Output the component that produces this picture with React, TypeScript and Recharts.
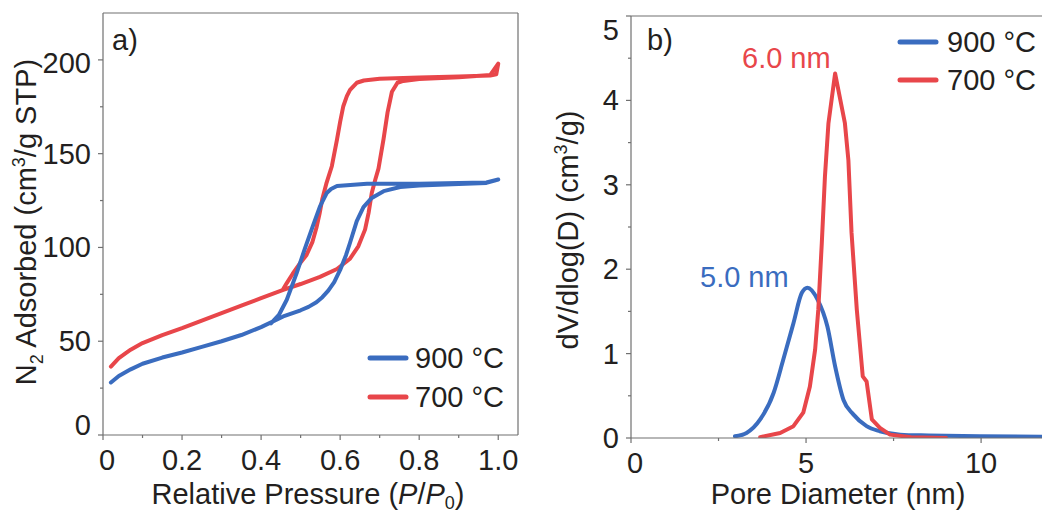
import React from 'react';
import { LineChart, Line, XAxis, YAxis, ReferenceLine, Customized, Legend } from 'recharts';

const FONT = '"Liberation Sans", Arial, Helvetica, sans-serif';
const BLUE = '#3a6cbf';
const RED = '#e8464a';
const AXIS = '#707070';
const TEXT = '#231f20';

// ---- Panel a) N2 isotherms (loop: adsorption then desorption) ----
const iso900P = [0.02, 0.04, 0.07, 0.1, 0.15, 0.2, 0.25, 0.3, 0.35, 0.4, 0.456, 0.5, 0.52, 0.54, 0.555, 0.57, 0.585, 0.6, 0.615, 0.625, 0.642, 0.659, 0.68, 0.71, 0.752, 0.8, 0.9, 0.97, 1.0,
  0.97, 0.9, 0.8, 0.668, 0.592, 0.577, 0.566, 0.549, 0.532, 0.511, 0.49, 0.465, 0.445, 0.425];
const iso900V = [28, 31.5, 35, 38, 41.3, 44, 47, 50, 53.3, 57.5, 63.2, 66.5, 68.3, 70.8, 73.5, 77, 81.5, 88, 96, 102.5, 114, 121.5, 126.4, 130, 132.2, 133, 133.8, 134.4, 136.2,
  134.6, 134.3, 134, 134, 132.8, 131.2, 129, 121.9, 112, 99.5, 86.3, 72.1, 64, 59.5];

const iso700P = [0.02, 0.04, 0.07, 0.1, 0.15, 0.2, 0.25, 0.3, 0.35, 0.4, 0.456, 0.5, 0.549, 0.592, 0.625, 0.646, 0.663, 0.672, 0.68, 0.689, 0.697, 0.71, 0.72, 0.731, 0.745, 0.76, 0.8, 0.9, 0.98, 1.0,
  0.995, 0.98, 0.9, 0.8, 0.7, 0.66, 0.642, 0.625, 0.617, 0.608, 0.6, 0.592, 0.579, 0.565, 0.555, 0.548, 0.54, 0.53, 0.515, 0.5, 0.48, 0.465, 0.456];
const iso700V = [36.5, 41, 45.5, 49, 53.3, 57, 61, 65, 69, 73, 77.4, 80.5, 84.3, 88.5, 94, 100.6, 109.5, 118.4, 129, 136.2, 142, 158, 172, 183, 187.8, 188.8, 189.8, 190.8, 192, 198,
  192.3, 191.7, 191.2, 190.6, 190, 189, 187.8, 184, 180.7, 175.3, 167, 157.5, 143.3, 134, 126, 118, 110.5, 103, 96, 92, 86, 81, 77.8];

const pressureTicks = [0, 0.1, 0.2, 0.3, 0.4, 0.5, 0.6, 0.7, 0.8, 0.9, 1.0];
const pressureLabels = ['0', '0.2', '0.4', '0.6', '0.8', '1.0'];
const volumeTicks = [0, 25, 50, 75, 100, 125, 150, 175, 200];
const volumeLabels = ['0', '50', '100', '150', '200'];

// ---- Panel b) pore size distributions ----
const pore900D = [2.97, 3.3, 3.69, 4.07, 4.35, 4.64, 4.88, 5.04, 5.33, 5.61, 5.83, 6.07, 6.35, 6.73, 7.11, 7.69, 8.5, 10, 11.74];
const pore900V = [0.02, 0.06, 0.22, 0.53, 0.93, 1.36, 1.72, 1.78, 1.64, 1.32, 0.85, 0.45, 0.28, 0.14, 0.08, 0.04, 0.03, 0.02, 0.015];
const pore700D = [3.69, 4.26, 4.64, 4.92, 5.11, 5.26, 5.35, 5.45, 5.54, 5.64, 5.83, 6.11, 6.21, 6.3, 6.45, 6.62, 6.73, 6.88, 7.11, 7.4, 8, 9];
const pore700V = [0.01, 0.06, 0.14, 0.3, 0.61, 1.05, 1.52, 2.31, 3.1, 3.73, 4.32, 3.73, 3.29, 2.43, 1.52, 0.73, 0.67, 0.22, 0.12, 0.04, 0.01, 0];

const diameterTicks = [0, 2.5, 5, 7.5, 10];
const diameterLabels = ['0', '5', '10'];
const dvTicks = [0, 0.5, 1, 1.5, 2, 2.5, 3, 3.5, 4, 4.5, 5];
const dvLabels = ['0', '1', '2', '3', '4', '5'];

const seriesNames = ['900 °C', '700 °C'];
const seriesColors = [BLUE, RED];

const zip = (xs: number[], ys: number[]) => xs.map((x, i) => ({ x, y: ys[i] }));
const iso900 = zip(iso900P, iso900V);
const iso700 = zip(iso700P, iso700V);
const pore900 = zip(pore900D, pore900V);
const pore700 = zip(pore700D, pore700V);

const textStyle = { fontFamily: FONT, fontSize: 29, fill: TEXT };

const makeXTick = (labels: string[], firstDx: number) => (props: any) => {
  const { x, y, index } = props;
  const major = index % 2 === 0;
  return (
    <g>
      <line x1={x} x2={x} y1={y} y2={y + (major ? 5 : 3)} stroke={AXIS} strokeWidth={1.2} />
      {major && (
        <text x={x + (index === 0 ? firstDx : 0)} y={y + 35} textAnchor="middle" style={textStyle}>
          {labels[index / 2]}
        </text>
      )}
    </g>
  );
};

const makeYTick = (labels: string[], firstDy: number, lastDy: number) => (props: any) => {
  const { x, y, index } = props;
  const major = index % 2 === 0;
  const li = index / 2;
  let dy = 0;
  if (li === 0) dy = firstDy;
  if (li === labels.length - 1) dy = lastDy;
  return (
    <g>
      <line x1={x} x2={x - (major ? 5 : 3)} y1={y} y2={y} stroke={AXIS} strokeWidth={1.2} />
      {major && (
        <text x={x - 12} y={y + 10 + dy} textAnchor="end" style={textStyle}>
          {labels[li]}
        </text>
      )}
    </g>
  );
};

const makeLegend = (lineX: number, lineY: number[], textX: number, w: number) => () => (
  <svg width={w} height={90} style={{ overflow: 'visible' }}>
    {seriesNames.map((n, i) => (
      <g key={n}>
        <line x1={lineX} x2={lineX + 36} y1={lineY[i]} y2={lineY[i]} stroke={seriesColors[i]} strokeWidth={5} strokeLinecap="round" />
        <text x={textX} y={lineY[i] + 10} style={textStyle}>{n}</text>
      </g>
    ))}
  </svg>
);

const LeftTexts = () => (
  <g>
    <text x={112} y={50} style={textStyle}>a)</text>
    <text x={308} y={504} textAnchor="middle" style={textStyle}>
      Relative Pressure (<tspan fontStyle="italic">P</tspan>/<tspan fontStyle="italic">P</tspan>
      <tspan fontSize={18} dy={5}>0</tspan><tspan dy={-5}>)</tspan>
    </text>
    <text x={36} y={222} textAnchor="middle" transform="rotate(-90 36 222)" style={textStyle}>
      N<tspan fontSize={18} dy={7}>2</tspan><tspan dy={-7}> Adsorbed (cm</tspan>
      <tspan fontSize={18} dy={-11}>3</tspan><tspan dy={11}>/g STP)</tspan>
    </text>
  </g>
);

const RightTexts = () => (
  <g>
    <text x={122} y={50} style={textStyle}>b)</text>
    <text x={217} y={68} style={{ ...textStyle, fill: RED }}>6.0 nm</text>
    <text x={175} y={287} style={{ ...textStyle, fill: BLUE }}>5.0 nm</text>
    <text x={313} y={504} textAnchor="middle" style={textStyle}>Pore Diameter (nm)</text>
    <text x={53} y={230} textAnchor="middle" transform="rotate(-90 53 230)" style={textStyle}>
      dV/dlog(D) (cm<tspan fontSize={18} dy={-11}>3</tspan><tspan dy={11}>/g)</tspan>
    </text>
  </g>
);

export default function App() {
  return (
    <div style={{ position: 'absolute', left: 0, top: 0, width: 1042, height: 516, background: '#fff', overflow: 'hidden' }}>
      <div style={{ position: 'absolute', left: 0, top: 0 }}>
        <LineChart width={525} height={516} margin={{ top: 13, right: 7, bottom: 0, left: 0 }}>
          <XAxis type="number" dataKey="x" domain={[0, 1.05]} ticks={pressureTicks} interval={0}
            tickSize={0} tickMargin={0} height={81} allowDataOverflow
            axisLine={{ stroke: AXIS, strokeWidth: 1.2 }} tickLine={false}
            tick={makeXTick(pressureLabels, 4)} />
          <YAxis type="number" dataKey="y" domain={[0, 225]} ticks={volumeTicks} interval={0}
            tickSize={0} tickMargin={0} width={103} allowDataOverflow
            axisLine={{ stroke: AXIS, strokeWidth: 1.2 }} tickLine={false}
            tick={makeYTick(volumeLabels, -10, 3)} />
          <ReferenceLine y={225} stroke={AXIS} strokeWidth={1.2} />
          <ReferenceLine x={1.05} stroke={AXIS} strokeWidth={1.2} />
          <Line data={iso700} dataKey="y" name="700 °C" type="linear" stroke={RED} strokeWidth={4}
            dot={false} isAnimationActive={false} strokeLinejoin="round" strokeLinecap="round" />
          <Line data={iso900} dataKey="y" name="900 °C" type="linear" stroke={BLUE} strokeWidth={4}
            dot={false} isAnimationActive={false} strokeLinejoin="round" strokeLinecap="round" />
          <Legend layout="vertical" align="center" verticalAlign="middle"
            wrapperStyle={{ left: 360, top: 330, width: 160, height: 90 }}
            content={makeLegend(10, [28, 67], 55, 160)} />
          <Customized component={LeftTexts} />
        </LineChart>
      </div>
      <div style={{ position: 'absolute', left: 525, top: 0 }}>
        <LineChart width={517} height={516} margin={{ top: 16, right: 0, bottom: 0, left: 0 }}>
          <XAxis type="number" dataKey="x" domain={[0, 11.74]} ticks={diameterTicks} interval={0}
            tickSize={0} tickMargin={0} height={78} allowDataOverflow
            axisLine={{ stroke: AXIS, strokeWidth: 1.2 }} tickLine={false}
            tick={makeXTick(diameterLabels, 4)} />
          <YAxis type="number" dataKey="y" domain={[0, 5]} ticks={dvTicks} interval={0}
            tickSize={0} tickMargin={0} width={106} allowDataOverflow
            axisLine={{ stroke: AXIS, strokeWidth: 1.2 }} tickLine={false}
            tick={makeYTick(dvLabels, 0, 14)} />
          <ReferenceLine y={5} stroke={AXIS} strokeWidth={1.2} />
          <Line data={pore900} dataKey="y" name="900 °C" type="monotone" stroke={BLUE} strokeWidth={4}
            dot={false} isAnimationActive={false} strokeLinejoin="round" strokeLinecap="round" />
          <Line data={pore700} dataKey="y" name="700 °C" type="linear" stroke={RED} strokeWidth={4}
            dot={false} isAnimationActive={false} strokeLinejoin="round" strokeLinecap="round" />
          <Legend layout="vertical" align="center" verticalAlign="middle"
            wrapperStyle={{ left: 370, top: 20, width: 147, height: 90 }}
            content={makeLegend(5, [22, 60], 52, 147)} />
          <Customized component={RightTexts} />
        </LineChart>
      </div>
    </div>
  );
}
